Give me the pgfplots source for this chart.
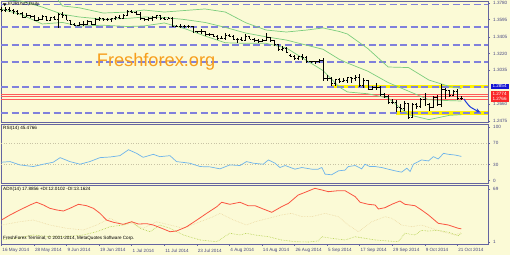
\documentclass[border=0pt]{standalone}
\usepackage{pgfplots}
\usepackage{pgfplotstable}
\pgfplotsset{compat=1.18}
\usepackage{fontspec}
\setmainfont{Liberation Sans}
\definecolor{bg}{RGB}{251,250,214}
\definecolor{frame}{RGB}{100,100,160}
\definecolor{lab}{RGB}{70,70,130}
\definecolor{dashc}{RGB}{128,128,220}
\definecolor{lvlred}{RGB}{255,90,90}
\definecolor{bbgreen}{RGB}{125,205,125}
\definecolor{rsiblue}{RGB}{110,180,235}
\definecolor{adxred}{RGB}{250,85,65}
\definecolor{pdi}{RGB}{175,205,70}
\definecolor{mdi}{RGB}{235,215,160}
\definecolor{wm}{RGB}{247,158,28}
\definecolor{arrowblue}{RGB}{30,60,220}
\definecolor{boxblue}{RGB}{20,20,210}
\definecolor{boxred}{RGB}{250,40,40}
\definecolor{lvlgrey}{RGB}{200,195,165}
\newcommand{\sm}{\fontsize{4.6bp}{5.2bp}\selectfont}

\pgfdeclareplotmark{openl}{\pgfpathmoveto{\pgfqpoint{-1.7bp}{0bp}}\pgfpathlineto{\pgfqpoint{0bp}{0bp}}\pgfusepathqstroke}
\pgfdeclareplotmark{closer}{\pgfpathmoveto{\pgfqpoint{0bp}{0bp}}\pgfpathlineto{\pgfqpoint{1.7bp}{0bp}}\pgfusepathqstroke}

\pgfplotsset{mt/.style={
  scale only axis, anchor=north west, width=487bp,
  xmin=-0.12, xmax=119.53,
  axis line style={draw=frame, line width=0.8bp},
  tick style={draw=frame, line width=0.5bp},
  major tick length=2bp,
  ytick pos=right, yticklabel pos=right, ytick align=outside,
  xtick align=outside,
  ticklabel style={font=\sm, text=lab},
  yticklabel style={anchor=west, inner sep=0pt, xshift=3bp},
  /pgf/number format/assume math mode=true,
  axis background/.style={fill=bg},
  xtick=\empty,
}}

\pgfplotstableread{
x o h l c
0 1.3710 1.3736 1.3681 1.3697
1 1.3697 1.3734 1.3685 1.3712
2 1.3712 1.3733 1.3676 1.3702
3 1.3702 1.3712 1.3662 1.3686
4 1.3686 1.3701 1.3646 1.3663
5 1.3663 1.3680 1.3615 1.3627
6 1.3627 1.3669 1.3620 1.3647
7 1.3647 1.3651 1.3614 1.3634
8 1.3634 1.3642 1.3585 1.3593
9 1.3593 1.3622 1.3586 1.3600
10 1.3600 1.3644 1.3589 1.3634
11 1.3634 1.3641 1.3587 1.3592
12 1.3592 1.3630 1.3583 1.3627
13 1.3627 1.3637 1.3590 1.3598
14 1.3598 1.3670 1.3503 1.3660
15 1.3660 1.3677 1.3618 1.3642
16 1.3642 1.3650 1.3591 1.3591
17 1.3591 1.3595 1.3535 1.3547
18 1.3547 1.3560 1.3525 1.3532
19 1.3532 1.3575 1.3522 1.3544
20 1.3544 1.3576 1.3530 1.3543
21 1.3543 1.3592 1.3538 1.3575
22 1.3575 1.3583 1.3540 1.3549
23 1.3549 1.3613 1.3540 1.3596
24 1.3596 1.3620 1.3580 1.3610
25 1.3610 1.3618 1.3583 1.3605
26 1.3605 1.3614 1.3577 1.3597
27 1.3597 1.3617 1.3575 1.3606
28 1.3606 1.3634 1.3590 1.3625
29 1.3625 1.3647 1.3605 1.3616
30 1.3616 1.3658 1.3605 1.3645
31 1.3645 1.3697 1.3638 1.3690
32 1.3690 1.3701 1.3676 1.3680
33 1.3680 1.3687 1.3651 1.3657
34 1.3657 1.3680 1.3593 1.3607
35 1.3607 1.3615 1.3588 1.3596
36 1.3596 1.3623 1.3580 1.3606
37 1.3606 1.3637 1.3585 1.3617
38 1.3617 1.3652 1.3603 1.3641
39 1.3641 1.3647 1.3588 1.3610
40 1.3610 1.3620 1.3589 1.3604
41 1.3604 1.3630 1.3598 1.3612
42 1.3612 1.3626 1.3526 1.3527
43 1.3527 1.3542 1.3510 1.3525
44 1.3525 1.3545 1.3500 1.3524
45 1.3524 1.3541 1.3500 1.3525
46 1.3525 1.3540 1.3506 1.3520
47 1.3520 1.3526 1.3455 1.3462
48 1.3462 1.3474 1.3446 1.3463
49 1.3463 1.3488 1.3441 1.3466
50 1.3466 1.3475 1.3420 1.3430
51 1.3430 1.3445 1.3415 1.3439
52 1.3439 1.3441 1.3406 1.3410
53 1.3410 1.3423 1.3367 1.3395
54 1.3395 1.3415 1.3380 1.3388
55 1.3388 1.3444 1.3370 1.3428
56 1.3428 1.3440 1.3405 1.3412
57 1.3412 1.3431 1.3368 1.3378
58 1.3378 1.3394 1.3333 1.3381
59 1.3381 1.3403 1.3361 1.3366
60 1.3366 1.3432 1.3365 1.3410
61 1.3410 1.3420 1.3382 1.3382
62 1.3382 1.3394 1.3354 1.3367
63 1.3367 1.3380 1.3343 1.3359
64 1.3359 1.3387 1.3349 1.3363
65 1.3363 1.3444 1.3363 1.3400
66 1.3400 1.3407 1.3352 1.3364
67 1.3364 1.3371 1.3315 1.3318
68 1.3318 1.3323 1.3255 1.3264
69 1.3264 1.3300 1.3250 1.3282
70 1.3282 1.3292 1.3225 1.3240
71 1.3198 1.3215 1.3178 1.3190
72 1.3190 1.3200 1.3150 1.3166
73 1.3166 1.3196 1.3150 1.3188
74 1.3188 1.3220 1.3150 1.3183
75 1.3183 1.3190 1.3131 1.3132
76 1.3132 1.3143 1.3111 1.3131
77 1.3131 1.3140 1.3110 1.3131
78 1.3131 1.3160 1.3115 1.3150
79 1.3150 1.3172 1.2921 1.2944
80 1.2944 1.2985 1.2922 1.2952
81 1.2952 1.2958 1.2858 1.2889
82 1.2889 1.2941 1.2860 1.2940
83 1.2940 1.2946 1.2895 1.2918
84 1.2918 1.2947 1.2903 1.2925
85 1.2925 1.2966 1.2900 1.2960
86 1.2960 1.2966 1.2900 1.2952
87 1.2952 1.2980 1.2912 1.2960
88 1.2960 1.2995 1.2859 1.2866
89 1.2866 1.2946 1.2838 1.2920
90 1.2920 1.2925 1.2815 1.2830
91 1.2830 1.2865 1.2816 1.2850
92 1.2850 1.2895 1.2820 1.2845
93 1.2845 1.2860 1.2760 1.2766
94 1.2766 1.2788 1.2731 1.2750
95 1.2750 1.2760 1.2667 1.2685
96 1.2685 1.2716 1.2659 1.2685
97 1.2685 1.2708 1.2570 1.2630
98 1.2630 1.2665 1.2570 1.2620
99 1.2620 1.2700 1.2585 1.2670
100 1.2670 1.2670 1.2500 1.2515
101 1.2515 1.2679 1.2506 1.2665
102 1.2665 1.2670 1.2608 1.2635
103 1.2635 1.2725 1.2622 1.2710
104 1.2710 1.2790 1.2650 1.2655
105 1.2655 1.2677 1.2582 1.2630
106 1.2630 1.2750 1.2615 1.2740
107 1.2740 1.2760 1.2640 1.2655
108 1.2655 1.2887 1.2625 1.2830
109 1.2830 1.2845 1.2720 1.2810
110 1.2810 1.2815 1.2745 1.2760
111 1.2760 1.2815 1.2750 1.2800
112 1.2800 1.2830 1.2710 1.2725
113 1.2725 1.2750 1.2705 1.2722
}\ohlc

\begin{document}
\begin{tikzpicture}
\fill[bg] (0bp,0bp) rectangle (510bp,255bp);
\useasboundingbox (0bp,0bp) rectangle (510bp,255bp);

% ---------------- main price panel
\begin{axis}[mt, at={(1bp,254bp)}, height=121.5bp, ymin=1.24583, ymax=1.38021,
  ytick={1.3780,1.3595,1.3405,1.3220,1.3035,1.2660,1.2475},
  yticklabels={1.3780,1.3595,1.3405,1.3220,1.3035,1.2660,1.2475}]
% yellow zones
\addplot[yellow, line width=3.5bp, forget plot] coordinates {(81.2,1.2854) (119.53,1.2854)};
\addplot[yellow, line width=3.5bp, forget plot] coordinates {(96.9,1.25634) (119.53,1.25634)};
% dashed levels
\foreach \lv in {1.37634,1.35146,1.33155,1.31275,1.28510,1.25634}{
  \edef\tmp{\noexpand\addplot[dashc, line width=1.2bp, dash pattern=on 7bp off 3.5bp, forget plot] coordinates {(-0.12,\lv) (119.53,\lv)};}\tmp
}
% red levels
\addplot[lvlred, line width=0.7bp] coordinates {(-0.12,1.27735) (119.53,1.27735)};
\addplot[lvlred, line width=0.7bp] coordinates {(-0.12,1.27459) (119.53,1.27459)};
\addplot[lvlred, line width=0.7bp] coordinates {(-0.12,1.27182) (119.53,1.27182)};
% Bollinger bands
\addplot[bbgreen, line width=0.7bp] coordinates {(12,1.3930) (15,1.3747) (19,1.3728) (25,1.3669) (31,1.3680) (35,1.3702) (40,1.3680) (45,1.3697) (50,1.3714) (55,1.3680) (60,1.3562) (65,1.3481) (70,1.3459) (75,1.3481) (79,1.3504) (83,1.3465) (85,1.3437) (90,1.3276) (95,1.3072) (100,1.3066) (105,1.2928) (110,1.2858) (113,1.2834)};
\addplot[bbgreen, line width=0.7bp] coordinates {(0,1.3820) (5,1.3800) (10,1.3735) (15,1.3655) (19,1.3626) (25,1.3600) (31,1.3610) (35,1.3625) (40,1.3620) (45,1.3597) (50,1.3565) (55,1.3510) (60,1.3448) (65,1.3406) (70,1.3370) (75,1.3313) (79,1.3268) (83,1.3157) (85,1.3116) (90,1.3026) (95,1.2900) (100,1.2805) (105,1.2710) (110,1.2700) (113,1.2696)};
\addplot[bbgreen, line width=0.7bp] coordinates {(0,1.3713) (5,1.3649) (10,1.3548) (15,1.3565) (19,1.3525) (25,1.3534) (31,1.3520) (35,1.3526) (40,1.3559) (45,1.3497) (50,1.3415) (55,1.3340) (60,1.3334) (65,1.3334) (70,1.3282) (75,1.3143) (79,1.3033) (83,1.2850) (85,1.2796) (90,1.2776) (95,1.2729) (100,1.2545) (105,1.2490) (110,1.2537) (113,1.2545)};
% OHLC bars
\addplot[draw=none, mark=none, forget plot,
  error bars/.cd, y dir=both, y explicit, error mark=none,
  error bar style={draw=black, solid, line width=0.55bp}]
  table[x=x, y=c, y error plus expr=\thisrow{h}-\thisrow{c}, y error minus expr=\thisrow{c}-\thisrow{l}] {\ohlc};
\addplot[only marks, mark=openl, mark options={draw=black, line width=0.55bp}] table[x=x, y=o] {\ohlc};
\addplot[only marks, mark=closer, mark options={draw=black, line width=0.55bp}] table[x=x, y=c] {\ohlc};
% arrow
\addplot[arrowblue, line width=1bp, smooth, -stealth] coordinates {(113.6,1.2718) (115.2,1.2630) (117.6,1.2572)};
\end{axis}

% ---------------- RSI panel
\begin{axis}[mt, at={(1bp,130.5bp)}, height=59bp, ymin=-5.24, ymax=105.24,
  ytick={0,30,70,100}, yticklabels={0,30,70,100}]
\addplot[lvlgrey, dotted, line width=0.6bp] coordinates {(-0.12,70) (119.53,70)};
\addplot[lvlgrey, dotted, line width=0.6bp] coordinates {(-0.12,30) (119.53,30)};
\addplot[rsiblue, line width=0.7bp] coordinates {(0,34.6) (2.1,35.8) (4.5,29.6) (7.8,26.5) (10.3,30.9) (12.7,34.6) (14.4,43.2) (16.8,35.8) (19.3,30.9) (21.7,35.8) (24.2,43.2) (26.7,44.4) (29.1,46.9) (31.2,58) (33.2,51.2) (34.8,43.8) (37.3,49.4) (38.9,45) (41.4,46.9) (43,35.8) (46.3,32.7) (48.8,26.5) (51.2,25.9) (53.7,22.2) (56.1,29.6) (58.6,28.4) (60.2,35.8) (61.9,32.7) (64.3,30.9) (65.6,38.9) (67.2,32.7) (68.4,24.7) (69.7,28.4) (72.1,21.6) (73.8,24.7) (76.2,21.6) (77.8,21.6) (78.7,24.7) (79.5,12.3) (81.1,11.1) (82.8,18.5) (84.4,19.8) (85.2,26.5) (86.9,28.4) (88.5,22.2) (89.3,30.9) (90.5,26.5) (91.8,26.5) (93.4,24.7) (95,21.6) (96.7,18.5) (98.3,16) (99.6,23.5) (100.4,17.3) (101.2,30.9) (103.2,38.9) (104.9,37) (106.1,45) (107.3,40.7) (108.6,51.2) (109.8,49.4) (111.4,48.1) (113,45.5)};
\end{axis}

% ---------------- ADX panel
\begin{axis}[mt, at={(1bp,69.5bp)}, height=58.5bp, ymin=-1.567, ymax=73.53,
  ytick={1,69}, yticklabels={1,69},
  xtick={0,8,...,112}, xtick pos=bottom,
  xticklabels={16 May 2014,28 May 2014,9 Jun 2014,19 Jun 2014,1 Jul 2014,11 Jul 2014,23 Jul 2014,4 Aug 2014,14 Aug 2014,26 Aug 2014,5 Sep 2014,17 Sep 2014,29 Sep 2014,9 Oct 2014,21 Oct 2014},
  xticklabel style={anchor=north west, inner sep=0pt, yshift=-2.5bp, xshift=0.8bp}]
\addplot[mdi, densely dotted, line width=0.6bp] coordinates {(0,22.8) (4.5,27) (7.8,29.2) (11.9,22.8) (16,18.6) (20.1,16.4) (23.4,22.8) (26.7,31.4) (29.9,22.8) (32,25) (34.8,18.6) (38.1,27) (41.4,22.8) (44.7,18.6) (48.8,27) (52,33.5) (53.7,37.8) (57,29.2) (60.2,22.8) (62.3,27) (65.6,31.4) (68.8,35.7) (71.3,37.8) (73.8,33.5) (76.2,33.5) (79.5,37.8) (82.8,33.5) (85.2,22.8) (87.7,14.2) (91,27) (94.2,33.5) (95.9,31.4) (98.3,22.8) (100.8,20.6) (103.2,22.8) (105.7,18.6) (108.2,14.2) (111.4,10) (113,13.2)};
\addplot[pdi, densely dotted, line width=0.6bp] coordinates {(0,3.6) (3.7,5.7) (7.8,10) (11.9,7.8) (16,7.8) (20.1,10) (23.4,14.2) (26.7,20.6) (29.9,22.8) (32,27) (34,18.6) (36.5,14.2) (38.9,22.8) (41.4,18.6) (44.7,10) (48.8,3.6) (52.9,1.4) (56.1,12.2) (58.6,10) (60.2,12.2) (62.3,10) (65.6,7.8) (68.8,3.6) (72.1,1.4) (75.4,1) (77.8,2.3) (78.7,7.8) (81.1,5.7) (84.4,3.6) (86.9,7.8) (89.3,5.7) (91.8,3.6) (95,2.3) (97.5,1.4) (99.1,12.2) (101.6,10) (103.2,16) (104.9,15) (107.3,16) (109.8,13.5) (112.2,9.1) (113,12)};
\addplot[adxred, line width=0.8bp] coordinates {(0,29.2) (2.1,35.7) (4.5,42.1) (7,48.5) (8.6,52) (10.3,48.5) (11.9,44.2) (13.6,42.1) (15.2,40.8) (16.8,44.2) (18.9,49.4) (20.9,47.6) (22.6,44.2) (24.2,37.8) (25.8,29.2) (27.5,26.3) (29.9,23.7) (32,27) (33.6,24.1) (35.7,24.5) (37.3,22.8) (39.8,17.7) (41.4,14.2) (43,15.1) (45.5,20.6) (48,29.2) (50.4,37.8) (52.9,46.3) (54.1,52) (56.1,49.4) (58.6,52) (60.6,47.6) (62.3,47.6) (64.3,43.4) (66.4,39.1) (68.8,46.3) (70.5,50.6) (72.9,61.3) (74.6,64.8) (77,69.9) (78.7,67.8) (80.3,65.6) (82.8,66.9) (84.4,66.9) (86.9,59.2) (88.1,52) (90.1,49.4) (91.8,48.5) (92.6,43.4) (94.2,45) (95.9,49.4) (97.9,53.6) (99.1,49.4) (101.6,47.6) (103.2,42.1) (104.9,35.7) (107.3,25) (109.8,22.8) (112.2,18.6) (113,17.9)};
\end{axis}

% ---------------- texts
\fill[black] (3bp,251.5bp) -- (6.4bp,251.5bp) -- (4.7bp,249bp) -- cycle;
\node[anchor=west, font=\sm, inner sep=0pt] at (8bp,250.2bp) {EURUSD,Daily};
\node[anchor=west, font=\sm, inner sep=0pt] at (3bp,127bp) {RSI(14) 45.4766};
\node[anchor=west, font=\sm, inner sep=0pt] at (3bp,66bp) {ADX(14) 17.8856 +DI:12.0102 -DI:13.1624};
\node[anchor=west, font=\sm, inner sep=0pt] at (3bp,17bp) {FreshForex Terminal, © 2001-2014, MetaQuotes Software Corp.};
\node[anchor=base west, font=\fontsize{18.2bp}{20bp}\selectfont, text=wm, inner sep=0pt] at (96.7bp,188.3bp) {Freshforex.org};
% price-scale boxes
\fill[boxblue] (490.5bp,170.8bp) rectangle (509bp,166.4bp);
\node[anchor=west, font=\sm, text=white, inner sep=0pt] at (492.3bp,168.6bp) {1.2854};
\fill[boxred] (490.5bp,164bp) rectangle (509bp,153.3bp);
\node[anchor=west, font=\sm, text=white, inner sep=0pt] at (492.3bp,161.3bp) {1.2774};
\node[anchor=west, font=\sm, text=white, inner sep=0pt] at (492.3bp,156bp) {1.2766};
\end{tikzpicture}
\end{document}
